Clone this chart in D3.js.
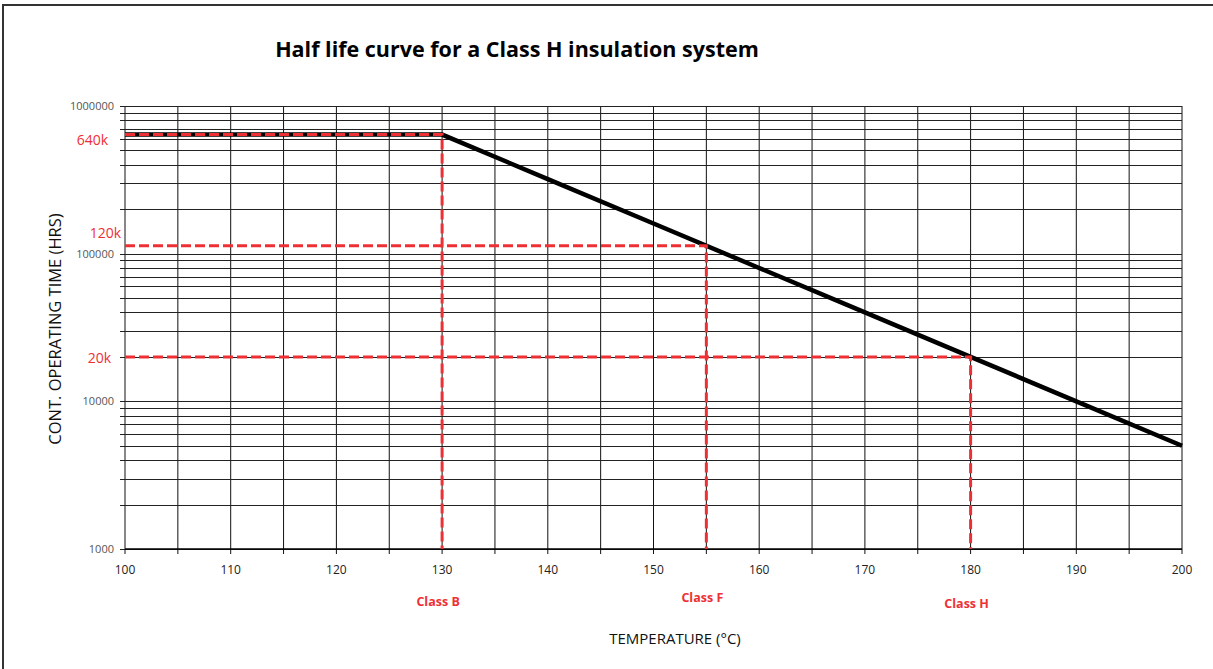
<!DOCTYPE html>
<html>
<head>
<meta charset="utf-8">
<script src="https://cdnjs.cloudflare.com/ajax/libs/d3/7.8.5/d3.min.js"></script>
<style>
  body { margin: 0; background: #fff; }
  svg { display: block; }
</style>
</head>
<body>
<div id="chart"></div>
<script>
// half life data, temp (C) vs hours
var temps = [100, 130, 140, 150, 160, 170, 180, 190, 200]
var hours = [640000, 640000, 320000, 160000, 80000, 40000, 20000, 10000, 5000]
var xTicks = [100, 110, 120, 130, 140, 150, 160, 170, 180, 190, 200]
var yTicks = [1000, 10000, 100000, 1000000]
// class markers: temp, hours at that point, label
var classTemps = [130, 155, 180]
var classHours = [640000, 113000, 20000]
var classNames = ['Class B', 'Class F', 'Class H']
var markLabels = ['640k', '120k', '20k']

var W = 1213, H = 669
var m = {left: 125, right: 31, top: 106, bottom: 120}

var svg = d3.select('#chart').append('svg')
  .attr('width', W).attr('height', H)

// outer frame
svg.append('path')
  .attr('d', 'M3,' + H + ' V5 H' + W)
  .attr('fill', 'none').attr('stroke', '#333').attr('stroke-width', 2)

var x = d3.scaleLinear().domain([100, 200]).range([m.left, W - m.right])
var y = d3.scaleLog().domain([1000, 1000000]).range([H - m.bottom, m.top])

var g = svg.append('g')

// vertical grid every 5 deg
var xGrid = d3.range(100, 201, 5)
g.selectAll('.vg').data(xGrid).enter().append('line')
  .attr('x1', function(d){ return x(d) }).attr('x2', function(d){ return x(d) })
  .attr('y1', y(1000000)).attr('y2', y(1000) + 5)
  .attr('stroke', '#111').attr('stroke-width', 1)

// horizontal grid on log steps
var yGrid = y.ticks()
g.selectAll('.hg').data(yGrid).enter().append('line')
  .attr('x1', x(100) - 5).attr('x2', x(200))
  .attr('y1', function(d){ return Math.round(y(d)) + 0.5 })
  .attr('y2', function(d){ return Math.round(y(d)) + 0.5 })
  .attr('stroke', '#222').attr('stroke-width', 1.2)

// bottom axis line
g.append('line')
  .attr('x1', x(100)).attr('x2', x(200))
  .attr('y1', y(1000)).attr('y2', y(1000))
  .attr('stroke', '#000').attr('stroke-width', 1.5)

// x tick labels
g.selectAll('.xl').data(xTicks).enter().append('text')
  .attr('x', function(d){ return x(d) })
  .attr('y', y(1000) + 25)
  .attr('text-anchor', 'middle')
  .attr('font-family', 'Open Sans, sans-serif')
  .attr('font-size', 12).attr('fill', '#222')
  .text(function(d){ return d })

// y tick labels
g.selectAll('.yl').data(yTicks).enter().append('text')
  .attr('x', x(100) - 11)
  .attr('y', function(d){ return y(d) + 4 })
  .attr('text-anchor', 'end')
  .attr('font-family', 'Open Sans, sans-serif')
  .attr('font-size', 11).attr('fill', '#555')
  .text(function(d){ return d })

// main curve
var line = d3.line()
  .x(function(d){ return x(d[0]) })
  .y(function(d){ return y(d[1]) })
var pts = temps.map(function(t, i){ return [t, hours[i]] })
g.append('path').datum(pts)
  .attr('d', line)
  .attr('fill', 'none').attr('stroke', '#000').attr('stroke-width', 4.5)

// red dashed markers
var red = '#ee3035'
for(var i = 0; i < classTemps.length; i++){
  var cx = x(classTemps[i]), cy = y(classHours[i])
  g.append('path')
    .attr('d', 'M' + x(100) + ',' + cy + ' H' + cx + ' V' + y(1000))
    .attr('fill', 'none').attr('stroke', red)
    .attr('stroke-width', 3).attr('stroke-dasharray', '10,4')
}

// red value labels
var labelPos = [[108, 145], [121, 238], [111, 363]]
g.selectAll('.rl').data(markLabels).enter().append('text')
  .attr('x', function(d, i){ return labelPos[i][0] })
  .attr('y', function(d, i){ return labelPos[i][1] })
  .attr('text-anchor', 'end')
  .attr('font-family', 'Open Sans, sans-serif')
  .attr('font-size', 14).attr('fill', red)
  .text(function(d){ return d })

// class labels
var classY = [606, 602, 608]
g.selectAll('.cl').data(classNames).enter().append('text')
  .attr('x', function(d, i){ return x(classTemps[i]) - 4 })
  .attr('y', function(d, i){ return classY[i] })
  .attr('text-anchor', 'middle')
  .attr('font-family', 'Open Sans, sans-serif')
  .attr('font-weight', 'bold')
  .attr('font-size', 12.5).attr('fill', red)
  .text(function(d){ return d })

// title
svg.append('text')
  .attr('x', 517).attr('y', 57)
  .attr('text-anchor', 'middle')
  .attr('font-family', 'Open Sans, sans-serif')
  .attr('font-weight', 'bold')
  .attr('font-size', 21.5).attr('fill', '#000')
  .text('Half life curve for a Class H insulation system')

// axis titles
svg.append('text')
  .attr('x', 675).attr('y', 644)
  .attr('text-anchor', 'middle')
  .attr('font-family', 'Open Sans, sans-serif')
  .attr('font-size', 15).attr('fill', '#111')
  .text('TEMPERATURE (°C)')

svg.append('text')
  .attr('transform', 'translate(61,329) rotate(-90)')
  .attr('text-anchor', 'middle')
  .attr('font-family', 'Open Sans, sans-serif')
  .attr('font-size', 16.5).attr('fill', '#111')
  .text('CONT. OPERATING TIME (HRS)')
</script>
</body>
</html>
